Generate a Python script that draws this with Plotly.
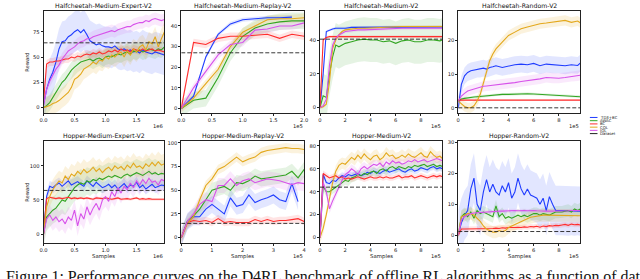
import plotly.graph_objects as go

W, H = 640, 279

algos = ["TD3+BC", "AWAC", "BC", "CQL", "IQL"]
colors = {"TD3+BC": "#1f3cff", "AWAC": "#33a523", "BC": "#ff2d2d", "CQL": "#e3a81c", "IQL": "#d752ea"}
fills = {"TD3+BC": "rgba(31,60,255,0.13)", "AWAC": "rgba(51,165,35,0.13)", "BC": "rgba(255,45,45,0.13)",
         "CQL": "rgba(227,168,28,0.15)", "IQL": "rgba(215,82,234,0.13)"}

titles = ["Halfcheetah-Medium-Expert-V2", "Halfcheetah-Medium-Replay-V2", "Halfcheetah-Medium-V2", "Halfcheetah-Random-V2",
          "Hopper-Medium-Expert-V2", "Hopper-Medium-Replay-V2", "Hopper-Medium-V2", "Hopper-Random-V2"]
exponents = ["1e6", "1e5", "1e5", "1e5", "1e6", "1e5", "1e5", "1e5"]
dataset_scores = [64, 27, 40.5, 0, 64, 15, 44, 1.2]

# ---------------- Panel 1: Halfcheetah-Medium-Expert ----------------
p1_x = [0.0, 0.05, 0.1, 0.15, 0.2, 0.25, 0.3, 0.35, 0.4, 0.45, 0.5, 0.55, 0.6, 0.65, 0.7, 0.75, 0.8, 0.85, 0.9, 0.95,
        1.0, 1.05, 1.1, 1.15, 1.2, 1.25, 1.3, 1.35, 1.4, 1.45, 1.5, 1.55, 1.6, 1.65, 1.7, 1.75, 1.8, 1.85, 1.9, 1.95]
p1_td3 = [3, 18, 28, 35, 45, 58, 65, 66, 70, 72, 75, 77, 74, 77, 72, 66, 64, 62, 63, 61, 60, 60, 59, 61, 58, 57, 58, 56,
          57, 55, 56, 54, 57, 55, 54, 53, 55, 54, 53, 52]
p1_awac = [0, 2, 5, 10, 15, 20, 25, 28, 33, 37, 40, 43, 45, 46, 47, 48, 46, 48, 49, 47, 50, 51, 50, 52, 53, 52, 54, 55,
           53, 56, 55, 57, 55, 56, 58, 57, 56, 58, 57, 60]
p1_bc = [5, 43, 45, 45, 46, 46, 47, 48, 48, 50, 49, 51, 50, 52, 53, 52, 54, 53, 55, 53, 54, 56, 55, 57, 55, 58, 56, 57,
         55, 58, 57, 56, 58, 56, 57, 58, 56, 57, 56, 55]
p1_cql = [0, 1, 2, 4, 5, 7, 10, 12, 15, 20, 28, 30, 33, 38, 40, 42, 45, 43, 47, 46, 50, 48, 52, 50, 53, 55, 50, 56, 52,
          58, 55, 60, 62, 57, 65, 63, 70, 60, 68, 75]
p1_iql = [2, 18, 26, 32, 38, 42, 48, 52, 56, 58, 60, 63, 65, 66, 68, 68, 70, 71, 72, 73, 74, 75, 76, 75, 77, 78, 79, 80,
          80, 82, 83, 84, 84, 86, 85, 87, 88, 87, 86, 87]
p1_spread = [20, 8, 4, 10, 6]

# ---------------- Panel 2: Halfcheetah-Medium-Replay ----------------
p2_x = [0.0, 0.2, 0.4, 0.6, 0.8, 1.0, 1.2, 1.4, 1.6, 1.8, 2.0]
p2_td3 = [0, 6, 25, 36, 41, 43, 43.5, 44, 44, 44.3]
p2_awac = [0, 4, 5, 15, 27, 35, 39, 41, 42, 42.5, 42.5]
p2_bc = [0, 32, 31, 34, 35, 35, 35.5, 36, 34, 36, 35]
p2_cql = [0, 5, 12, 19, 30, 37, 40, 43, 43.5, 43.5, 44]
p2_iql = [0, 10, 18, 26, 31, 32, 38, 38.5, 40, 40, 41.5]
p2_spread = [1, 4, 1.8, 2, 2]

# ---------------- Panel 3: Halfcheetah-Medium ----------------
p3_x = [0, 0.25, 0.5, 0.75, 1.0, 1.25, 1.5, 1.75, 2.0, 2.5, 3.0, 3.5, 4.0, 4.5, 5.0, 5.5, 6.0, 6.5, 7.0, 7.5, 8.0, 8.5,
        9.0, 9.5, 9.7]
p3_td3 = [0, 20, 45, 46, 46.5, 47, 47, 47, 47, 47.5, 47.5, 47.5, 47.5, 47.5, 47.5, 47.5, 47.5, 47.8, 47.8, 47.8, 47.8,
          47.8, 47.8, 47.8, 47.8]
p3_awac = [0, 7, 6, 20, 30, 37, 36, 37, 38, 39, 40, 40.5, 40, 40, 39, 39.5, 38, 39.5, 40, 39, 39, 40, 40, 39.5, 40]
p3_bc = [0, 40, 41.5, 42, 42, 42, 41.8, 42, 42, 42, 41.8, 42, 42, 42, 41.8, 42, 42, 42.2, 42, 42, 42, 42, 42.2, 42, 42]
p3_cql = [0, 0.5, 2, 15, 35, 40, 43, 45, 46, 46.5, 47, 47, 47.2, 47.5, 47.5, 47.8, 47.8, 48, 48, 48, 48, 48, 48, 48, 48]
p3_iql = [0, 1, 5, 25, 37, 41, 43, 44, 45, 45.5, 46, 46, 46.2, 46.5, 46.5, 46.8, 47, 47, 47, 47, 47, 47, 47, 47, 47]
p3_spread = [0.8, 13, 0.8, 0.8, 1]

# ---------------- Panel 4: Halfcheetah-Random ----------------
p4_x = [0, 0.25, 0.5, 0.75, 1.0, 1.25, 1.5, 1.75, 2.0, 2.25, 2.5, 2.75, 3.0, 3.5, 4.0, 4.5, 5.0, 5.5, 6.0, 6.5, 7.0,
        7.5, 8.0, 8.5, 9.0, 9.5, 9.7]
p4_td3 = [0, 7, 9.5, 10.5, 11, 11.2, 11.5, 11.5, 11.8, 11.5, 12, 12.2, 12.5, 12, 12.5, 12.8, 13, 12.8, 13.2, 12.5, 13,
          12.8, 12.8, 12.5, 12.8, 12.6, 13.3]
p4_awac = [2, 2.6, 2.8, 3, 3.1, 3.2, 3.3, 3.4, 3.5, 3.6, 3.7, 3.8, 3.9, 4, 4, 4.1, 4.1, 4.2, 4.1, 4, 4, 3.8, 3.7, 3.6,
           3.5, 3.4, 3.3]
p4_bc = [2.3, 2.3, 2.3, 2.3, 2.3, 2.3, 2.3, 2.3, 2.3, 2.3, 2.3, 2.3, 2.3, 2.3, 2.3, 2.3, 2.3, 2.3, 2.3, 2.3, 2.3, 2.3,
         2.3, 2.3, 2.3, 2.3, 2.3]
p4_cql = [2, 1.2, 0.4, 0, 0, 0.6, 2, 4, 7.5, 11, 14, 16, 17.5, 19.5, 21.5, 22.5, 23.5, 24, 24.5, 25, 25.2, 25.5, 25.8,
          26, 25.4, 25.8, 25.3]
p4_iql = [2, 3.5, 4.3, 5, 5.3, 5.6, 6, 6.2, 6.4, 6.5, 6.6, 6.6, 6.8, 7, 7.3, 7.5, 7.8, 8, 8.3, 8.6, 9, 8.8, 8.8, 9.0,
          9.3, 9.5, 9.7]
p4_spread = [2.5, 0.4, 0.2, 1.5, 1.5]

# ---------------- Panel 5: Hopper-Medium-Expert ----------------
p5_x = p1_x
p5_td3 = [0, 55, 70, 68, 72, 75, 70, 74, 78, 72, 75, 77, 73, 70, 78, 74, 70, 76, 72, 68, 70, 73, 68, 72, 66, 70, 74, 68,
          72, 70, 76, 68, 72, 66, 70, 73, 68, 70, 72, 71]
p5_awac = [0, 25, 30, 35, 38, 45, 50, 48, 55, 62, 68, 72, 75, 73, 78, 76, 80, 78, 82, 80, 82, 85, 83, 86, 84, 82, 86,
           88, 85, 87, 90, 88, 86, 89, 92, 88, 90, 87, 89, 88]
p5_bc = [0, 52, 54, 53, 52, 53, 52, 53, 54, 52, 53, 52, 53, 52, 53, 52, 51, 53, 52, 52, 53, 52, 51, 52, 53, 51, 52, 52,
         51, 52, 53, 51, 52, 51, 52, 51, 51, 52, 51, 51]
p5_cql = [0, 40, 55, 65, 72, 78, 75, 85, 80, 88, 85, 92, 88, 95, 90, 93, 98, 92, 96, 90, 95, 98, 93, 100, 96, 99, 94,
          101, 97, 104, 98, 100, 96, 103, 99, 105, 100, 106, 101, 103]
p5_iql = [0, 22, 28, 20, 25, 18, 22, 15, 25, 20, 35, 12, 30, 22, 40, 28, 38, 45, 35, 50, 55, 48, 62, 55, 68, 60, 70, 65,
          75, 68, 78, 72, 80, 74, 82, 76, 78, 72, 80, 78]
p5_spread = [8, 20, 2, 15, 15]

# ---------------- Panel 6: Hopper-Medium-Replay ----------------
p6_x = [0.0, 0.2, 0.4, 0.6, 0.8, 1.0, 1.2, 1.4, 1.6, 1.8, 2.0, 2.2, 2.4, 2.6, 2.8, 3.0, 3.2, 3.4, 3.6, 3.8, 4.0]
p6_td3 = [0, 17, 22, 22, 30, 35, 30, 25, 42, 33, 35, 45, 37, 40, 42, 45, 40, 38, 57, 38]
p6_awac = [0, 17, 23, 30, 40, 50, 52, 54, 50, 58, 57, 60, 65, 62, 63, 64, 65, 66, 70, 63, 72]
p6_bc = [0, 16, 18, 17, 18, 16, 20, 16, 17, 16, 16, 16, 19, 17, 19, 17, 18, 18, 19, 20, 17]
p6_cql = [0, 15, 22, 40, 55, 62, 72, 75, 80, 85, 80, 83, 85, 90, 92, 93, 94, 95, 94, 94, 93]
p6_iql = [0, 17, 25, 35, 40, 38, 55, 55, 62, 55, 60, 62, 58, 60, 62, 61, 60, 58, 56, 58, 57]
p6_spread = [9, 8, 4, 5, 8]

# ---------------- Panel 7: Hopper-Medium ----------------
p7_x = [0, 0.25, 0.5, 0.75, 1.0, 1.25, 1.5, 1.75, 2.0, 2.25, 2.5, 2.75, 3.0, 3.25, 3.5, 3.75, 4.0, 4.25, 4.5, 4.75,
        5.0, 5.25, 5.5, 5.75, 6.0, 6.25, 6.5, 6.75, 7.0, 7.25, 7.5, 7.75, 8.0, 8.25, 8.5, 8.75, 9.0, 9.25, 9.5, 9.7]
p7_td3 = [0, 55, 48, 47, 50, 49, 52, 54, 53, 55, 54, 55, 56, 54, 55, 57, 56, 58, 57, 56, 58, 59, 57, 58, 59, 60, 58, 57,
          59, 60, 58, 59, 61, 60, 59, 61, 62, 60, 61, 60]
p7_awac = [0, 45, 40, 40, 42, 44, 46, 48, 50, 49, 52, 53, 55, 54, 56, 55, 57, 58, 56, 59, 60, 58, 61, 62, 60, 62, 61,
           60, 62, 61, 63, 62, 63, 64, 62, 63, 64, 62, 63, 62]
p7_bc = [0, 56, 54, 52, 53, 54, 52, 53, 51, 52, 51, 52, 53, 52, 51, 52, 53, 52, 52, 53, 52, 53, 52, 52, 53, 54, 52, 53,
         53, 54, 52, 53, 54, 53, 52, 53, 54, 53, 54, 53]
p7_cql = [0, 8, 20, 35, 48, 58, 63, 65, 64, 67, 70, 68, 72, 69, 73, 70, 68, 71, 72, 68, 70, 74, 71, 72, 69, 70, 72, 70,
          73, 71, 70, 72, 74, 71, 70, 75, 72, 70, 71, 69]
p7_iql = [0, 48, 40, 25, 32, 38, 45, 50, 55, 57, 60, 58, 55, 60, 62, 60, 62, 64, 63, 65, 62, 66, 64, 67, 65, 66, 64, 65,
          67, 66, 68, 66, 67, 68, 66, 67, 68, 69, 68, 67]
p7_spread = [3, 4, 2.5, 5, 4]

# ---------------- Panel 8: Hopper-Random ----------------
p8_x = p7_x
p8_td3 = [0, 4, 6.5, 8, 15, 18.5, 10, 8, 14, 18, 14, 16.5, 14, 13, 16, 14, 17, 12, 14, 18.5, 15, 13, 15, 13, 12.5, 12,
          10, 12, 8, 12.5, 10, 8, 8, 8, 8, 7.8, 8, 7.8, 8, 7.8]
p8_awac = [0, 6, 7, 6, 7.5, 5.5, 8, 7, 7.5, 7, 6.5, 6, 9.5, 6, 7, 5.5, 6, 5.5, 6, 6.5, 6, 6.5, 6, 6.5, 7, 7, 6.5, 7,
           6.8, 6.5, 7, 7.5, 7.5, 7.5, 7.8, 8, 7.5, 8.5, 8, 8.5]
p8_bc = [0, 2, 2, 2, 2.1, 2, 2.1, 2, 2.2, 2.1, 2.2, 2.2, 2.3, 2.2, 2.4, 2.3, 2.5, 2.4, 2.5, 2.6, 2.5, 2.7, 2.6, 2.8,
         2.7, 2.9, 2.6, 3, 2.8, 3.1, 3, 3.2, 3.1, 3.3, 3.5, 3.2, 3.6, 3.4, 3.5, 3.3]
p8_cql = [0, 6, 6.5, 7, 7, 6.5, 5.5, 4.5, 3, 2, 1.5, 1, 1, 1.5, 1.2, 1.5, 2.5, 3, 3.5, 4, 4.5, 5, 5.5, 5.8, 6, 6.2,
          6.4, 6.5, 6.5, 6.5, 6.5, 6.5, 6.5, 6.4, 6.4, 6.4, 6.4, 6.4, 6.4, 6.3]
p8_iql = [0, 5, 6, 6.5, 7, 7.2, 7.3, 7.4, 7.5, 7.6, 7.6, 7.7, 7.8, 7.8, 7.8, 7.9, 7.8, 7.9, 8, 7.9, 8, 8, 7.9, 8, 8,
          7.9, 7.8, 7.9, 7.8, 7.8, 7.8, 7.7, 7.8, 7.8, 7.8, 7.9, 8, 7.9, 8, 8]
p8_spread = [8, 2, 0.8, 2, 0.6]

panels = [
    (p1_x, [p1_td3, p1_awac, p1_bc, p1_cql, p1_iql], p1_spread),
    (p2_x, [p2_td3, p2_awac, p2_bc, p2_cql, p2_iql], p2_spread),
    (p3_x, [p3_td3, p3_awac, p3_bc, p3_cql, p3_iql], p3_spread),
    (p4_x, [p4_td3, p4_awac, p4_bc, p4_cql, p4_iql], p4_spread),
    (p5_x, [p5_td3, p5_awac, p5_bc, p5_cql, p5_iql], p5_spread),
    (p6_x, [p6_td3, p6_awac, p6_bc, p6_cql, p6_iql], p6_spread),
    (p7_x, [p7_td3, p7_awac, p7_bc, p7_cql, p7_iql], p7_spread),
    (p8_x, [p8_td3, p8_awac, p8_bc, p8_cql, p8_iql], p8_spread),
]

x_ranges = [[0, 1.95], [0, 2.0], [0, 9.7], [0, 9.7], [0, 1.95], [0, 4.0], [0, 9.7], [0, 9.7]]
y_ranges = [[-5.5, 95.5], [-2.3, 47.3], [-3.3, 57.2], [-1.6, 28.8], [-13.5, 136.5], [-6, 102], [-5, 84.3], [-2.6, 30.5]]
x_ticks = [[0, 0.5, 1.0, 1.5], [0, 0.5, 1.0, 1.5, 2.0], [0, 2, 4, 6, 8], [0, 2, 4, 6, 8],
           [0, 0.5, 1.0, 1.5], [0, 1, 2, 3, 4], [0, 2, 4, 6, 8], [0, 2, 4, 6, 8]]
x_ticktext = [["0.0", "0.5", "1.0", "1.5"], ["0.0", "0.5", "1.0", "1.5", "2.0"], ["0", "2", "4", "6", "8"],
              ["0", "2", "4", "6", "8"], ["0.0", "0.5", "1.0", "1.5"], ["0", "1", "2", "3", "4"],
              ["0", "2", "4", "6", "8"], ["0", "2", "4", "6", "8"]]
y_ticks = [[0, 25, 50, 75], [0, 10, 20, 30, 40], [0, 20, 40], [0, 10, 20],
           [0, 50, 100], [0, 25, 50, 75, 100], [0, 20, 40, 60, 80], [0, 10, 20, 30]]

# pixel layout
col_px = [(40, 162.5), (179.5, 304), (320, 444), (460, 583.5)]
row_px = [(9, 112), (140, 243)]


def px_x(p):
    return p / W


def px_y(p):
    return 1 - p / H


fig = go.Figure()
annotations = []
shapes = []
FONT = "DejaVu Sans"

for i, (xs, series, spread) in enumerate(panels):
    r, c = divmod(i, 4)
    ax = "" if i == 0 else str(i + 1)
    xa, ya = "x" + ax, "y" + ax
    # bands
    for name, ys, s in zip(algos, series, spread):
        xx = xs[:len(ys)]
        up = [v + s for v in ys]
        lo = [max(v - s, y_ranges[i][0] - 5) for v in ys]
        fig.add_trace(go.Scatter(x=list(xx) + list(xx)[::-1], y=up + lo[::-1], fill="toself",
                                 fillcolor=fills[name], line=dict(width=0), mode="lines",
                                 hoverinfo="skip", showlegend=False, xaxis=xa, yaxis=ya))
    for name, ys in zip(algos, series):
        fig.add_trace(go.Scatter(x=xs[:len(ys)], y=ys, mode="lines", line=dict(color=colors[name], width=1.1),
                                 showlegend=False, xaxis=xa, yaxis=ya))
    fig.add_trace(go.Scatter(x=x_ranges[i], y=[dataset_scores[i]] * 2, mode="lines",
                             line=dict(color="#222222", width=0.9, dash="4px,2px"),
                             showlegend=False, xaxis=xa, yaxis=ya))

    x0, x1 = col_px[c]
    y0, y1 = row_px[r]
    axis_common = dict(showgrid=False, zeroline=False, showline=True, linecolor="#222222", linewidth=0.7,
                       mirror=True, ticks="outside", ticklen=2, tickwidth=0.6, tickcolor="#222222",
                       tickfont=dict(family=FONT, size=5.2, color="#222222"))
    fig.layout["xaxis" + ax] = dict(domain=[px_x(x0), px_x(x1)], range=x_ranges[i], anchor=ya,
                                    tickvals=x_ticks[i], ticktext=x_ticktext[i], **axis_common)
    fig.layout["yaxis" + ax] = dict(domain=[px_y(y1), px_y(y0)], range=y_ranges[i], anchor=xa,
                                    tickvals=y_ticks[i], ticktext=[str(v) for v in y_ticks[i]], **axis_common)

    annotations.append(dict(text=titles[i], x=px_x((x0 + x1) / 2), y=px_y(y0 - 5), xref="paper", yref="paper",
                            showarrow=False, xanchor="center", yanchor="middle",
                            font=dict(family=FONT, size=6.2, color="#111111")))
    annotations.append(dict(text=exponents[i], x=px_x(x1 + 1), y=px_y(y1 + 13), xref="paper", yref="paper",
                            showarrow=False, xanchor="right", yanchor="middle",
                            font=dict(family=FONT, size=5.2, color="#222222")))
    if r == 1:
        annotations.append(dict(text="Samples", x=px_x((x0 + x1) / 2), y=px_y(y1 + 13), xref="paper", yref="paper",
                                showarrow=False, xanchor="center", yanchor="middle",
                                font=dict(family=FONT, size=5.4, color="#222222")))
    if c == 0:
        annotations.append(dict(text="Reward", x=px_x(23), y=px_y((y0 + y1) / 2), xref="paper", yref="paper",
                                showarrow=False, xanchor="center", yanchor="middle", textangle=-90,
                                font=dict(family=FONT, size=5.2, color="#222222")))

# manual compact legend
legend_names = algos + ["Dataset"]
legend_colors = [colors[a] for a in algos] + ["#222222"]
for k, (nm, colr) in enumerate(zip(legend_names, legend_colors)):
    yy = 116.3 + k * 3.25
    shapes.append(dict(type="line", xref="paper", yref="paper", x0=px_x(593.3), x1=px_x(601), y0=px_y(yy),
                       y1=px_y(yy), line=dict(color=colr, width=1.0, dash="dash" if nm == "Dataset" else "solid")))
    annotations.append(dict(text=nm, x=px_x(602.5), y=px_y(yy), xref="paper", yref="paper", showarrow=False,
                            xanchor="left", yanchor="middle", borderpad=0,
                            font=dict(family=FONT, size=3.9, color="#222222")))

# caption (cut by the page edge, as in the source)
annotations.append(dict(text="Figure 1: Performance curves on the D4RL benchmark of offline RL algorithms as a function of data",
                        x=0, y=px_y(265.5), xref="paper", yref="paper", showarrow=False, xanchor="left",
                        yanchor="top", font=dict(family="Liberation Serif", size=15.9, color="#111111")))

fig.update_layout(width=W, height=H, margin=dict(l=0, r=0, t=0, b=0), paper_bgcolor="white",
                  plot_bgcolor="white", showlegend=False, annotations=annotations, shapes=shapes)

fig.write_html("out.html", config={"displayModeBar": False},
               post_script="document.body.style.margin='0';document.body.style.overflow='hidden';")
